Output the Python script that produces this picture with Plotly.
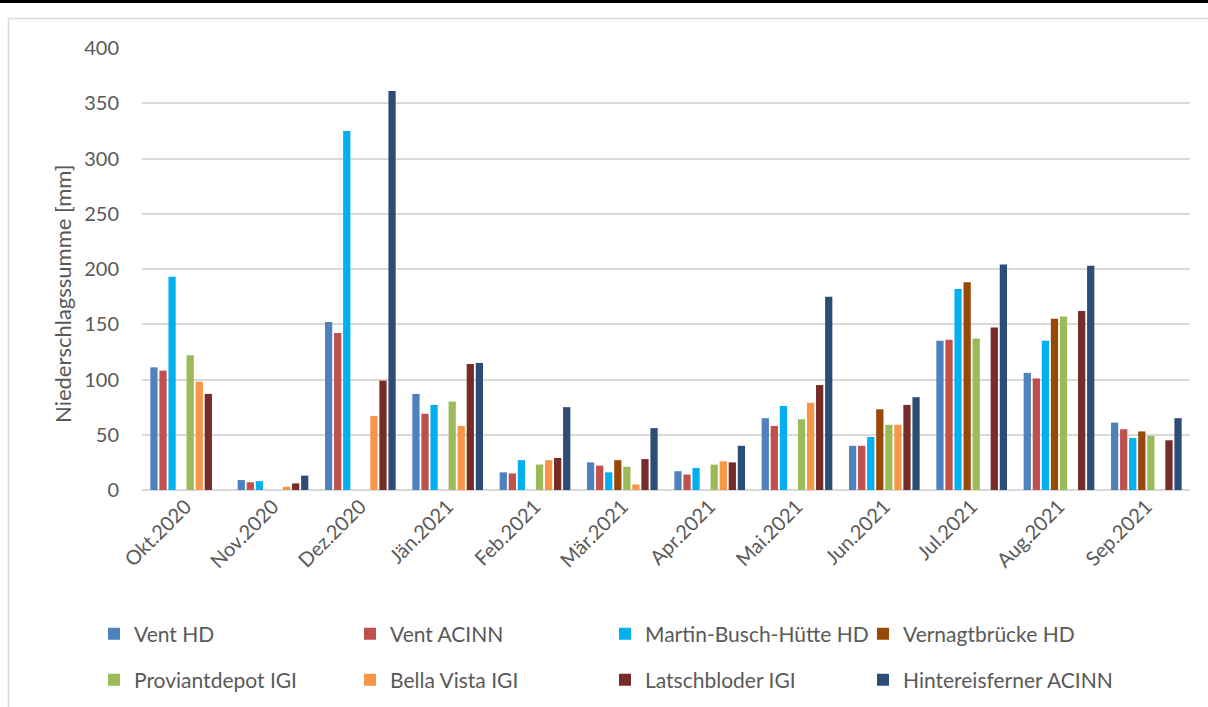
import plotly.graph_objects as go

# Monthly precipitation totals per station
months = ["Okt.2020", "Nov.2020", "Dez.2020", "Jän.2021", "Feb.2021", "Mär.2021",
          "Apr.2021", "Mai.2021", "Jun.2021", "Jul.2021", "Aug.2021", "Sep.2021"]

vent_hd = [111, 9, 152, 87, 16, 25, 17, 65, 40, 135, 106, 61]
vent_acinn = [108, 7, 142, 69, 15, 22, 14, 58, 40, 136, 101, 55]
martin_busch_huette_hd = [193, 8, 325, 77, 27, 16, 20, 76, 48, 182, 135, 47]
vernagtbruecke_hd = [None, None, None, None, None, 27, None, None, 73, 188, 155, 53]
proviantdepot_igi = [122, None, None, 80, 23, 21, 23, 64, 59, 137, 157, 49]
bella_vista_igi = [98, 3, 67, 58, 27, 5, 26, 79, 59, None, None, None]
latschbloder_igi = [87, 6, 99, 114, 29, 28, 25, 95, 77, 147, 162, 45]
hintereisferner_acinn = [None, 13, 361, 115, 75, 56, 40, 175, 84, 204, 203, 65]

station_names = ["Vent HD", "Vent ACINN", "Martin-Busch-Hütte HD", "Vernagtbrücke HD",
                 "Proviantdepot IGI", "Bella Vista IGI", "Latschbloder IGI",
                 "Hintereisferner ACINN"]
station_values = [vent_hd, vent_acinn, martin_busch_huette_hd, vernagtbruecke_hd,
                  proviantdepot_igi, bella_vista_igi, latschbloder_igi,
                  hintereisferner_acinn]
station_colors = ["#4F81BD", "#C0504D", "#00B0F0", "#984807",
                  "#9BBB59", "#F79646", "#772C2A", "#2C4D75"]

W, H = 1208, 707
L, R, T, B = 142, 18, 48, 217
TEXT = "#595959"
FONT = "Lato"

# legend entries: two rows of four, each placed on its own (pixel positions)
leg_cols = [111, 367, 622, 880]
leg_rows = [634, 680]

fig = go.Figure()
layout_legends = {}
for i, (name, vals, col) in enumerate(zip(station_names, station_values, station_colors)):
    key = "legend" if i == 0 else f"legend{i + 1}"
    fig.add_trace(go.Bar(
        x=months, y=vals, name=name, marker_color=col,
        marker_line_width=0, legend=key,
    ))
    cx = leg_cols[i % 4] - 17
    cy = leg_rows[i // 4]
    layout_legends[key] = dict(
        xref="container", yref="container",
        x=cx / W, y=1 - cy / H, xanchor="left", yanchor="middle",
        bgcolor="rgba(0,0,0,0)", borderwidth=0,
        font=dict(family=FONT, size=21, color=TEXT),
        itemclick=False, itemdoubleclick=False,
    )

# paper <-> pixel helpers for frame decorations
def px_x(p):
    return (p - L) / (W - L - R)

def px_y(p):
    return (H - B - p) / (H - T - B)

shapes = [
    # dark rule across the top
    dict(type="line", xref="paper", yref="paper", x0=px_x(0), x1=px_x(W),
         y0=px_y(1.5), y1=px_y(1.5), line=dict(color="#000000", width=3)),
    # light chart-area frame (top and left edges)
    dict(type="line", xref="paper", yref="paper", x0=px_x(8.5), x1=px_x(W),
         y0=px_y(18.5), y1=px_y(18.5), line=dict(color="#D9D9D9", width=1.5)),
    dict(type="line", xref="paper", yref="paper", x0=px_x(8.5), x1=px_x(8.5),
         y0=px_y(18.5), y1=px_y(H), line=dict(color="#D9D9D9", width=1.5)),
]

fig.update_layout(
    width=W, height=H,
    margin=dict(l=L, r=R, t=T, b=B, autoexpand=False),
    paper_bgcolor="white", plot_bgcolor="white",
    barmode="group", bargap=0.17, bargroupgap=0.2,
    showlegend=True,
    font=dict(family=FONT, color=TEXT),
    shapes=shapes,
    annotations=[dict(
        text="Niederschlagssumme [mm]", textangle=-90,
        xref="paper", yref="paper", x=px_x(62), y=px_y(294),
        xanchor="center", yanchor="middle", showarrow=False,
        font=dict(family=FONT, size=22, color=TEXT),
    )],
    **layout_legends,
)

fig.update_yaxes(
    range=[0, 400], dtick=50, tick0=0,
    showgrid=True, gridcolor="#D9D9D9", gridwidth=1.5,
    zeroline=True, zerolinecolor="#D9D9D9", zerolinewidth=2,
    showline=False, ticks="", ticklabelstandoff=22,
    tickfont=dict(family=FONT, size=20, color=TEXT),
    automargin=False, fixedrange=True,
)
fig.update_xaxes(
    type="category", tickangle=-45, showgrid=False, showline=False,
    ticks="", tickfont=dict(family=FONT, size=20, color=TEXT),
    automargin=False, fixedrange=True,
)

fig.write_html("out.html", config={"displayModeBar": False})
